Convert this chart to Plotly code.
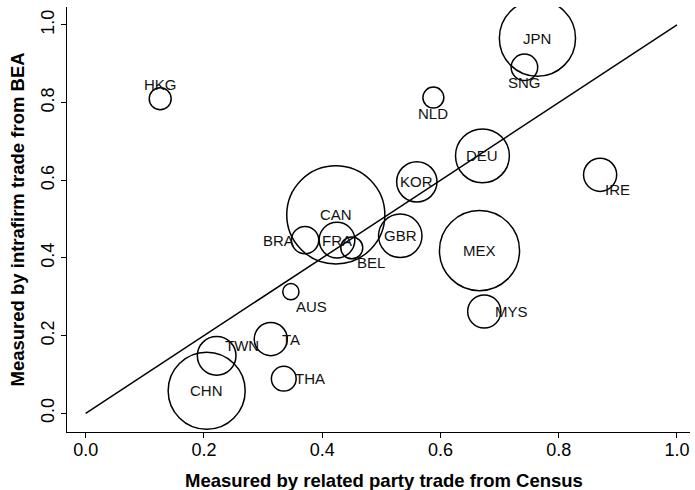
import plotly.graph_objects as go

# ---- data ----
countries = ["JPN", "SNG", "NLD", "DEU", "KOR", "IRE", "HKG", "CAN", "BRA", "FRA",
             "BEL", "GBR", "MEX", "AUS", "MYS", "TA", "TWN", "THA", "CHN"]
census_share = [0.764, 0.742, 0.588, 0.671, 0.560, 0.870, 0.126, 0.423, 0.371, 0.425,
                0.450, 0.532, 0.666, 0.347, 0.674, 0.313, 0.2215, 0.335, 0.2046]
bea_share = [0.966, 0.891, 0.813, 0.663, 0.596, 0.614, 0.810, 0.511, 0.446, 0.446,
             0.426, 0.457, 0.419, 0.313, 0.262, 0.191, 0.148, 0.089, 0.058]
trade_weight = [13.2, 1.6, 1.0, 6.6, 3.7, 2.5, 1.1, 21.9, 1.7, 2.9,
                1.1, 4.3, 14.6, 0.6, 2.5, 2.5, 3.4, 1.4, 13.5]
diag_x = [0.0, 1.0]
diag_y = [0.0, 1.0]
x_ticks = [0.0, 0.2, 0.4, 0.6, 0.8, 1.0]
x_tick_labels = ["0.0", "0.2", "0.4", "0.6", "0.8", "1.0"]
y_ticks = [0.0, 0.2, 0.4, 0.6, 0.8, 1.0]
y_tick_labels = ["0.0", "0.2", "0.4", "0.6", "0.8", "1.0"]

# label placement (clock-style) per country
label_pos = {"JPN": "c", "SNG": "6", "NLD": "6", "DEU": "c", "KOR": "c", "IRE": "5",
             "HKG": "12", "CAN": "c", "BRA": "9", "FRA": "c", "BEL": "5", "GBR": "c",
             "MEX": "c", "AUS": "5", "MYS": "3", "TA": "3", "TWN": "2", "THA": "3",
             "CHN": "c"}
pos_style = {
    "c": dict(xanchor="center", yanchor="middle", xshift=0, yshift=0),
    "6": dict(xanchor="center", yanchor="middle", xshift=0, yshift=-15.5),
    "12": dict(xanchor="center", yanchor="middle", xshift=0, yshift=14.5),
    "9": dict(xanchor="right", yanchor="middle", xshift=-10, yshift=0),
    "3": dict(xanchor="left", yanchor="middle", xshift=10, yshift=0),
    "5": dict(xanchor="left", yanchor="middle", xshift=4, yshift=-14.5),
    "2": dict(xanchor="left", yanchor="middle", xshift=7, yshift=10),
}

FONT = "Liberation Sans, Arial, Helvetica, sans-serif"

fig = go.Figure()
fig.add_trace(go.Scatter(
    x=diag_x, y=diag_y, mode="lines",
    line=dict(color="black", width=1.5), hoverinfo="skip", showlegend=False))
fig.add_trace(go.Scatter(
    x=census_share, y=bea_share, mode="markers", text=countries,
    marker=dict(size=trade_weight, sizemode="area", sizeref=0.00455, opacity=1,
                color="rgba(0,0,0,0)", line=dict(color="black", width=1.5)),
    showlegend=False))

annotations = []
for c, xv, yv in zip(countries, census_share, bea_share):
    st = pos_style[label_pos[c]]
    annotations.append(dict(x=xv, y=yv, xref="x", yref="y", text=c, showarrow=False,
                            font=dict(family=FONT, size=15, color="#111111"),
                            borderpad=0, **st))

annotations.append(dict(x=0, y=0, xref="paper", yref="paper", xshift=116, yshift=-61,
                        xanchor="left", yanchor="bottom", showarrow=False,
                        text="<b>Measured by related party trade from Census</b>",
                        font=dict(family=FONT, size=18.5, color="black")))
annotations.append(dict(x=0, y=0.5, xref="paper", yref="paper", xshift=-50,
                        xanchor="center", yanchor="middle", showarrow=False, textangle=-90,
                        text="<b>Measured by intrafirm trade from BEA</b>",
                        font=dict(family=FONT, size=18.5, color="black")))

fig.update_layout(
    width=695, height=490,
    margin=dict(l=67, r=5, t=7, b=58),
    paper_bgcolor="white", plot_bgcolor="white",
    font=dict(family=FONT, color="black"),
    annotations=annotations,
    hovermode=False,
    xaxis=dict(range=[-0.0316, 1.022], tickvals=x_ticks, ticktext=x_tick_labels,
               showgrid=False, zeroline=False, showline=True, linecolor="black",
               linewidth=1.2, ticks="outside", ticklen=5, tickwidth=1.2, tickcolor="black",
               ticklabelstandoff=-4,
               tickfont=dict(family=FONT, size=18, color="black")),
    yaxis=dict(range=[-0.0482, 1.0463], tickvals=y_ticks, ticktext=y_tick_labels,
               showgrid=False, zeroline=False, showline=True, linecolor="black",
               linewidth=1.2, ticks="outside", ticklen=5, tickwidth=1.2, tickcolor="black",
               tickangle=-90, tickfont=dict(family=FONT, size=18, color="black")),
)

fig.write_html("out.html", config={"displayModeBar": False},
               post_script="document.body.style.margin='0px';")
